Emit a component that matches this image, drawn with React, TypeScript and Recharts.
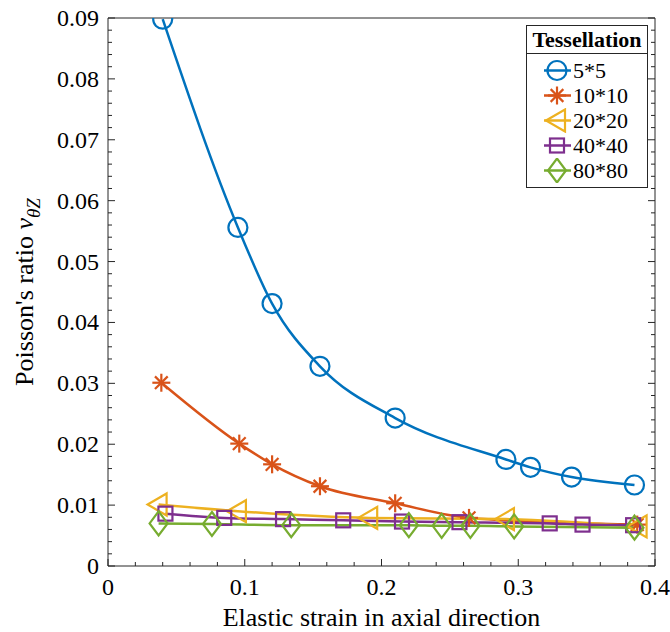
import { LineChart, Line, XAxis, YAxis, Legend, Label } from 'recharts';

// elastic strain (x) and Poisson's ratio (y), one pair of arrays per tessellation
const strain5 = [0.04, 0.095, 0.12, 0.155, 0.21, 0.291, 0.309, 0.339, 0.385];
const nu5 = [0.0898, 0.0556, 0.0431, 0.0328, 0.0243, 0.0175, 0.0162, 0.0146, 0.0133];

const strain10 = [0.039, 0.096, 0.12, 0.155, 0.21, 0.264, 0.387];
const nu10 = [0.0301, 0.0201, 0.0167, 0.0131, 0.0103, 0.0079, 0.0068];

const strain20 = [0.037, 0.095, 0.191, 0.291, 0.388];
const nu20 = [0.0101, 0.009, 0.0079, 0.0077, 0.0065];

const strain40 = [0.042, 0.085, 0.128, 0.172, 0.215, 0.257, 0.323, 0.347, 0.384];
const nu40 = [0.0086, 0.0079, 0.0077, 0.0075, 0.0073, 0.0072, 0.007, 0.0068, 0.0067];

const strain80 = [0.037, 0.076, 0.134, 0.22, 0.244, 0.265, 0.297, 0.385];
const nu80 = [0.007, 0.0069, 0.0067, 0.0067, 0.0066, 0.0066, 0.0065, 0.0063];

const seriesNames = ['5*5', '10*10', '20*20', '40*40', '80*80'];
const seriesColors = ['#0072BD', '#D95319', '#EDB120', '#7E2F8E', '#77AC30'];
const seriesMarkers = ['circle', 'star', 'triangle', 'square', 'diamond'];

const xTickLabels = [0, 0.1, 0.2, 0.3, 0.4];
const yTickLabels = [0, 0.01, 0.02, 0.03, 0.04, 0.05, 0.06, 0.07, 0.08, 0.09];

const FONT = '"Liberation Serif", "Times New Roman", serif';
const AXIS = '#262626';

const toPoints = (xs: number[], ys: number[]) => xs.map((x, i) => ({ x, y: ys[i] }));
const allData = [
  toPoints(strain5, nu5),
  toPoints(strain10, nu10),
  toPoints(strain20, nu20),
  toPoints(strain40, nu40),
  toPoints(strain80, nu80),
];

// minor ticks: 5 divisions between major labels
const subdivide = (majors: number[]) => {
  const out: number[] = [];
  for (let i = 0; i < majors.length - 1; i++) {
    const step = (majors[i + 1] - majors[i]) / 5;
    for (let k = 0; k < 5; k++) out.push(majors[i] + k * step);
  }
  out.push(majors[majors.length - 1]);
  return out;
};
const xTicks = subdivide(xTickLabels);
const yTicks = subdivide(yTickLabels);

const isMajor = (v: number, majors: number[]) => majors.some((m) => Math.abs(m - v) < 1e-9);

function Marker({ kind, cx, cy, color }: { kind: string; cx: number; cy: number; color: string }) {
  const sw = 2.2;
  if (kind === 'circle')
    return <circle cx={cx} cy={cy} r={9.5} fill="none" stroke={color} strokeWidth={sw} />;
  if (kind === 'star') {
    const r = 9;
    const d = r * 0.707;
    return (
      <g stroke={color} strokeWidth={sw}>
        <line x1={cx - r} y1={cy} x2={cx + r} y2={cy} />
        <line x1={cx} y1={cy - r} x2={cx} y2={cy + r} />
        <line x1={cx - d} y1={cy - d} x2={cx + d} y2={cy + d} />
        <line x1={cx - d} y1={cy + d} x2={cx + d} y2={cy - d} />
      </g>
    );
  }
  if (kind === 'triangle')
    return (
      <polygon
        points={`${cx - 11},${cy} ${cx + 8},${cy - 11} ${cx + 8},${cy + 11}`}
        fill="none"
        stroke={color}
        strokeWidth={sw}
      />
    );
  if (kind === 'square')
    return <rect x={cx - 7} y={cy - 7} width={14} height={14} fill="none" stroke={color} strokeWidth={sw} />;
  return (
    <polygon
      points={`${cx},${cy - 12} ${cx + 9},${cy} ${cx},${cy + 12} ${cx - 9},${cy}`}
      fill="none"
      stroke={color}
      strokeWidth={sw}
    />
  );
}

const BottomTick = ({ x, y, payload }: any) => {
  const major = isMajor(payload.value, xTickLabels);
  return (
    <g>
      <line x1={x} x2={x} y1={y} y2={y - (major ? 7 : 4)} stroke={AXIS} />
      {major && (
        <text x={x} y={y + 29} textAnchor="middle" fontSize={24} fontFamily={FONT} fill="#000">
          {payload.value}
        </text>
      )}
    </g>
  );
};

const TopTick = ({ x, y, payload }: any) => {
  const major = isMajor(payload.value, xTickLabels);
  return <line x1={x} x2={x} y1={y} y2={y + (major ? 7 : 4)} stroke={AXIS} />;
};

const LeftTick = ({ x, y, payload }: any) => {
  const major = isMajor(payload.value, yTickLabels);
  return (
    <g>
      <line x1={x} x2={x + (major ? 7 : 4)} y1={y} y2={y} stroke={AXIS} />
      {major && (
        <text x={x - 9} y={y + 8} textAnchor="end" fontSize={24} fontFamily={FONT} fill="#000">
          {payload.value}
        </text>
      )}
    </g>
  );
};

const RightTick = ({ x, y, payload }: any) => {
  const major = isMajor(payload.value, yTickLabels);
  return <line x1={x} x2={x - (major ? 7 : 4)} y1={y} y2={y} stroke={AXIS} />;
};

const renderLegend = () => (
  <div
    style={{
      border: `1px solid ${AXIS}`,
      background: '#fff',
      width: 122,
      fontFamily: FONT,
      color: '#000',
      boxSizing: 'border-box',
    }}
  >
    <div
      style={{
        fontWeight: 'bold',
        fontSize: 22,
        textAlign: 'center',
        lineHeight: '27px',
        borderBottom: `1px solid ${AXIS}`,
      }}
    >
      Tessellation
    </div>
    <div style={{ padding: '4px 0 4px 0' }}>
      {seriesNames.map((name, i) => (
        <div key={name} style={{ display: 'flex', alignItems: 'center', height: 25 }}>
          <svg width={46} height={25} style={{ display: 'block' }}>
            <line x1={17} x2={44} y1={12.5} y2={12.5} stroke={seriesColors[i]} strokeWidth={2.5} />
            <Marker kind={seriesMarkers[i]} cx={30} cy={12.5} color={seriesColors[i]} />
          </svg>
          <span style={{ fontSize: 22, lineHeight: '25px' }}>{name}</span>
        </div>
      ))}
    </div>
  </div>
);

export default function App() {
  return (
    <div style={{ position: 'absolute', left: 0, top: 0, background: '#fff' }}>
      <LineChart width={670} height={632} margin={{ top: 17, right: 14, bottom: 36, left: 48 }}>
        <XAxis
          dataKey="x"
          type="number"
          domain={[0, 0.4]}
          ticks={xTicks}
          interval={0}
          tickSize={0}
          tickMargin={0}
          tickLine={false}
          height={30}
          stroke={AXIS}
          tick={<BottomTick />}
          allowDataOverflow
        >
          <Label
            content={({ viewBox }: any) => (
              <text
                x={viewBox.x + viewBox.width / 2}
                y={viewBox.y + 60}
                textAnchor="middle"
                fontSize={26}
                fontFamily={FONT}
                fill="#000"
              >
                Elastic strain in axial direction
              </text>
            )}
          />
        </XAxis>
        <XAxis
          xAxisId="top"
          orientation="top"
          type="number"
          domain={[0, 0.4]}
          ticks={xTicks}
          interval={0}
          tickSize={0}
          tickMargin={0}
          tickLine={false}
          height={1}
          stroke={AXIS}
          tick={<TopTick />}
          allowDataOverflow
        />
        <YAxis
          type="number"
          domain={[0, 0.09]}
          ticks={yTicks}
          interval={0}
          tickSize={0}
          tickMargin={0}
          tickLine={false}
          width={60}
          stroke={AXIS}
          tick={<LeftTick />}
          allowDataOverflow
        >
          <Label
            content={({ viewBox }: any) => {
              const cx = viewBox.x + viewBox.width - 75;
              const cy = viewBox.y + viewBox.height / 2;
              return (
                <text
                  x={cx}
                  y={cy}
                  transform={`rotate(-90 ${cx} ${cy})`}
                  textAnchor="middle"
                  fontSize={26}
                  fontFamily={FONT}
                  fill="#000"
                >
                  <tspan>Poisson's ratio </tspan>
                  <tspan fontStyle="italic">ν</tspan>
                  <tspan fontStyle="italic" fontSize={19} dy={7}>
                    θZ
                  </tspan>
                </text>
              );
            }}
          />
        </YAxis>
        <YAxis
          yAxisId="right"
          orientation="right"
          type="number"
          domain={[0, 0.09]}
          ticks={yTicks}
          interval={0}
          tickSize={0}
          tickMargin={0}
          tickLine={false}
          width={1}
          stroke={AXIS}
          tick={<RightTick />}
          allowDataOverflow
        />
        {allData.map((data, i) => (
          <Line
            key={seriesNames[i]}
            data={data}
            dataKey="y"
            name={seriesNames[i]}
            type="monotone"
            stroke={seriesColors[i]}
            strokeWidth={2.5}
            isAnimationActive={false}
            activeDot={false}
            dot={(p: any) => (
              <Marker key={`${i}-${p.index}`} kind={seriesMarkers[i]} cx={p.cx} cy={p.cy} color={seriesColors[i]} />
            )}
          />
        ))}
        <Legend
          layout="vertical"
          align="center"
          verticalAlign="middle"
          content={renderLegend}
          wrapperStyle={{ left: 526, top: 25, width: 'auto' }}
        />
      </LineChart>
    </div>
  );
}
